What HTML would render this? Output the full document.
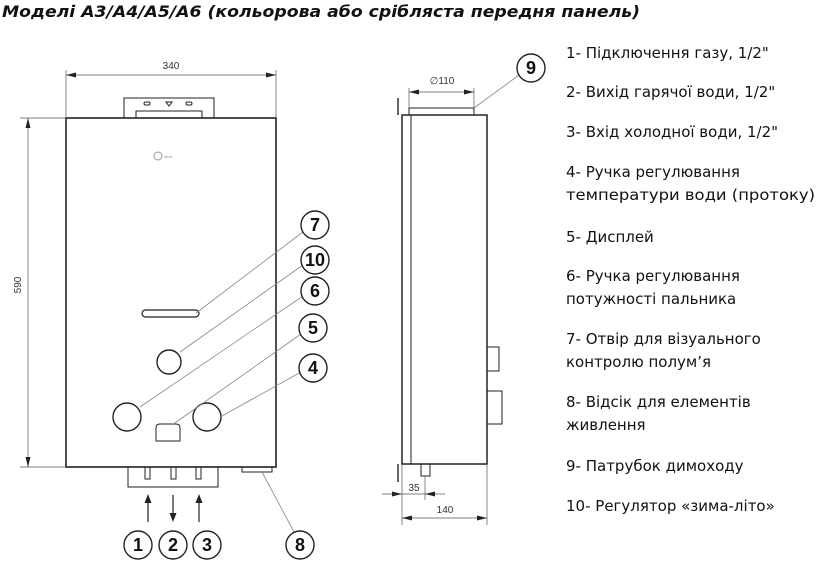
<!DOCTYPE html>
<html><head><meta charset="utf-8"><style>
html,body{margin:0;padding:0;background:#fff;}
svg{display:block}
.t{font-family:"DejaVu Sans","Liberation Sans",sans-serif;font-size:15px;fill:#111}
.n{font-family:"Liberation Sans",Arial,sans-serif;font-weight:bold;font-size:18px;fill:#111;text-anchor:middle}
.d{font-family:"Liberation Sans",Arial,sans-serif;font-size:10px;fill:#333;text-anchor:middle}
</style></head><body>
<svg width="819" height="564" viewBox="0 0 819 564" xmlns="http://www.w3.org/2000/svg">
<text x="2" y="17" font-family="DejaVu Sans, sans-serif" font-weight="bold" font-style="italic" font-size="16" fill="#111" textLength="638" lengthAdjust="spacingAndGlyphs">Моделі A3/A4/A5/A6  (кольорова або срібляста передня панель)</text>

<g fill="none" stroke="#222">
<rect x="66" y="118" width="210" height="349" stroke-width="1.6"/>
<rect x="124" y="98" width="90" height="20" stroke-width="1"/>
<rect x="136" y="111" width="66" height="7" stroke-width="1"/>
<rect x="144" y="102" width="6" height="3" rx="1.5"/>
<rect x="186" y="102" width="6" height="3" rx="1.5"/>
<path d="M166 102 h6 l-3 4 z"/>
<rect x="142" y="310" width="57" height="7" rx="3.5" stroke-width="1.2"/>
<circle cx="169" cy="362" r="12" stroke-width="1.4"/>
<circle cx="127" cy="417" r="14" stroke-width="1.4"/>
<circle cx="207" cy="417" r="14" stroke-width="1.4"/>
<path d="M156 441 V428 Q156 424 160 424 H176 Q180 424 180 428 V441 Z" stroke-width="1"/>
<rect x="128" y="467" width="90" height="20" stroke-width="1"/>
<rect x="145" y="467" width="5" height="12"/><rect x="171" y="467" width="5" height="12"/><rect x="196" y="467" width="5" height="12"/>
<rect x="242" y="467" width="30" height="5"/>
<circle cx="158" cy="156" r="4" stroke="#999"/>
<g stroke="#555" stroke-width="0.7">
<line x1="66" y1="70" x2="66" y2="118"/><line x1="276" y1="70" x2="276" y2="118"/>
<line x1="66" y1="75" x2="276" y2="75"/>
<line x1="20" y1="118" x2="66" y2="118"/><line x1="20" y1="467" x2="66" y2="467"/>
<line x1="28" y1="118" x2="28" y2="467"/>
</g>
<g stroke="#888" stroke-width="0.8">
<line x1="303" y1="232" x2="196" y2="313"/>
<line x1="303" y1="265" x2="180" y2="352"/>
<line x1="303" y1="296" x2="140" y2="407"/>
<line x1="301" y1="334" x2="172" y2="425"/>
<line x1="301" y1="372" x2="222" y2="416"/>
<line x1="262" y1="472" x2="294" y2="532"/>
<line x1="519" y1="75" x2="474" y2="108"/>
</g>
<g stroke-width="1.4">
<circle cx="315" cy="225" r="14"/><circle cx="315" cy="260" r="14"/><circle cx="315" cy="291" r="14"/>
<circle cx="313" cy="328" r="14"/><circle cx="313" cy="368" r="14"/>
<circle cx="138" cy="545" r="14"/><circle cx="173" cy="545" r="14"/><circle cx="207" cy="545" r="14"/>
<circle cx="300" cy="545" r="14"/><circle cx="531" cy="68" r="14"/>
</g>
<g stroke-width="1.2"><line x1="148" y1="522" x2="148" y2="498"/><line x1="173" y1="495" x2="173" y2="518"/><line x1="199" y1="522" x2="199" y2="498"/></g>
<rect x="402" y="115" width="85" height="349" stroke-width="1.5"/>
<line x1="411" y1="115" x2="411" y2="464"/>
<line x1="398" y1="98" x2="398" y2="115" stroke-width="1.4"/>
<line x1="398" y1="464" x2="398" y2="482" stroke-width="1.4"/>
<rect x="409" y="108" width="65" height="7"/>
<rect x="487" y="347" width="12" height="24"/>
<rect x="487" y="391" width="15" height="33"/>
<rect x="421" y="464" width="9" height="12"/>
<g stroke="#555" stroke-width="0.7">
<line x1="409" y1="88" x2="409" y2="108"/><line x1="474" y1="88" x2="474" y2="108"/>
<line x1="409" y1="92" x2="474" y2="92"/>
<line x1="402" y1="464" x2="402" y2="525"/><line x1="487" y1="464" x2="487" y2="525"/>
<line x1="425" y1="476" x2="425" y2="500"/>
<line x1="382" y1="494" x2="445" y2="494"/>
<line x1="402" y1="518" x2="487" y2="518"/>
</g>
</g>
<g fill="#222">
<path d="M66 75 l10 -2.5 v5z M276 75 l-10 -2.5 v5z"/>
<path d="M28 118 l-2.5 10 h5z M28 467 l-2.5 -10 h5z"/>
<path d="M148 494 l-3.5 9 h7z M173 522 l-3.5 -9 h7z M199 494 l-3.5 9 h7z"/>
<path d="M409 92 l10 -2.5 v5z M474 92 l-10 -2.5 v5z"/>
<path d="M402 494 l-10 -2.5 v5z M425 494 l10 -2.5 v5z"/>
<path d="M402 518 l10 -2.5 v5z M487 518 l-10 -2.5 v5z"/>
</g>
<text class="d" x="171" y="69">340</text>
<text class="d" transform="translate(21,285) rotate(-90)">590</text>
<text class="d" x="442" y="84">∅110</text>
<text class="d" x="414" y="491">35</text>
<text class="d" x="445" y="513">140</text>
<text x="164" y="158" font-family="Liberation Sans,sans-serif" font-size="4" fill="#999">atlas</text>
<text class="n" x="315" y="231">7</text><text class="n" x="315" y="266" font-size="16">10</text>
<text class="n" x="315" y="297">6</text><text class="n" x="313" y="334">5</text><text class="n" x="313" y="374">4</text>
<text class="n" x="138" y="551">1</text><text class="n" x="173" y="551">2</text><text class="n" x="207" y="551">3</text>
<text class="n" x="300" y="551">8</text><text class="n" x="531" y="74">9</text>

<text class="t" x="566" y="58">1- Підключення газу, 1/2"</text>
<text class="t" x="566" y="97">2- Вихід гарячої води, 1/2"</text>
<text class="t" x="566" y="137">3- Вхід холодної води, 1/2"</text>
<text class="t" x="566" y="177">4- Ручка регулювання</text>
<text class="t" x="566" y="200" textLength="249" lengthAdjust="spacingAndGlyphs">температури води (протоку)</text>
<text class="t" x="566" y="242">5- Дисплей</text>
<text class="t" x="566" y="281">6- Ручка регулювання</text>
<text class="t" x="566" y="304">потужності пальника</text>
<text class="t" x="566" y="344">7- Отвір для візуального</text>
<text class="t" x="566" y="367">контролю полум’я</text>
<text class="t" x="566" y="407">8- Відсік для елементів</text>
<text class="t" x="566" y="430">живлення</text>
<text class="t" x="566" y="471">9- Патрубок димоходу</text>
<text class="t" x="566" y="511">10- Регулятор «зима-літо»</text>
</svg>
</body></html>
